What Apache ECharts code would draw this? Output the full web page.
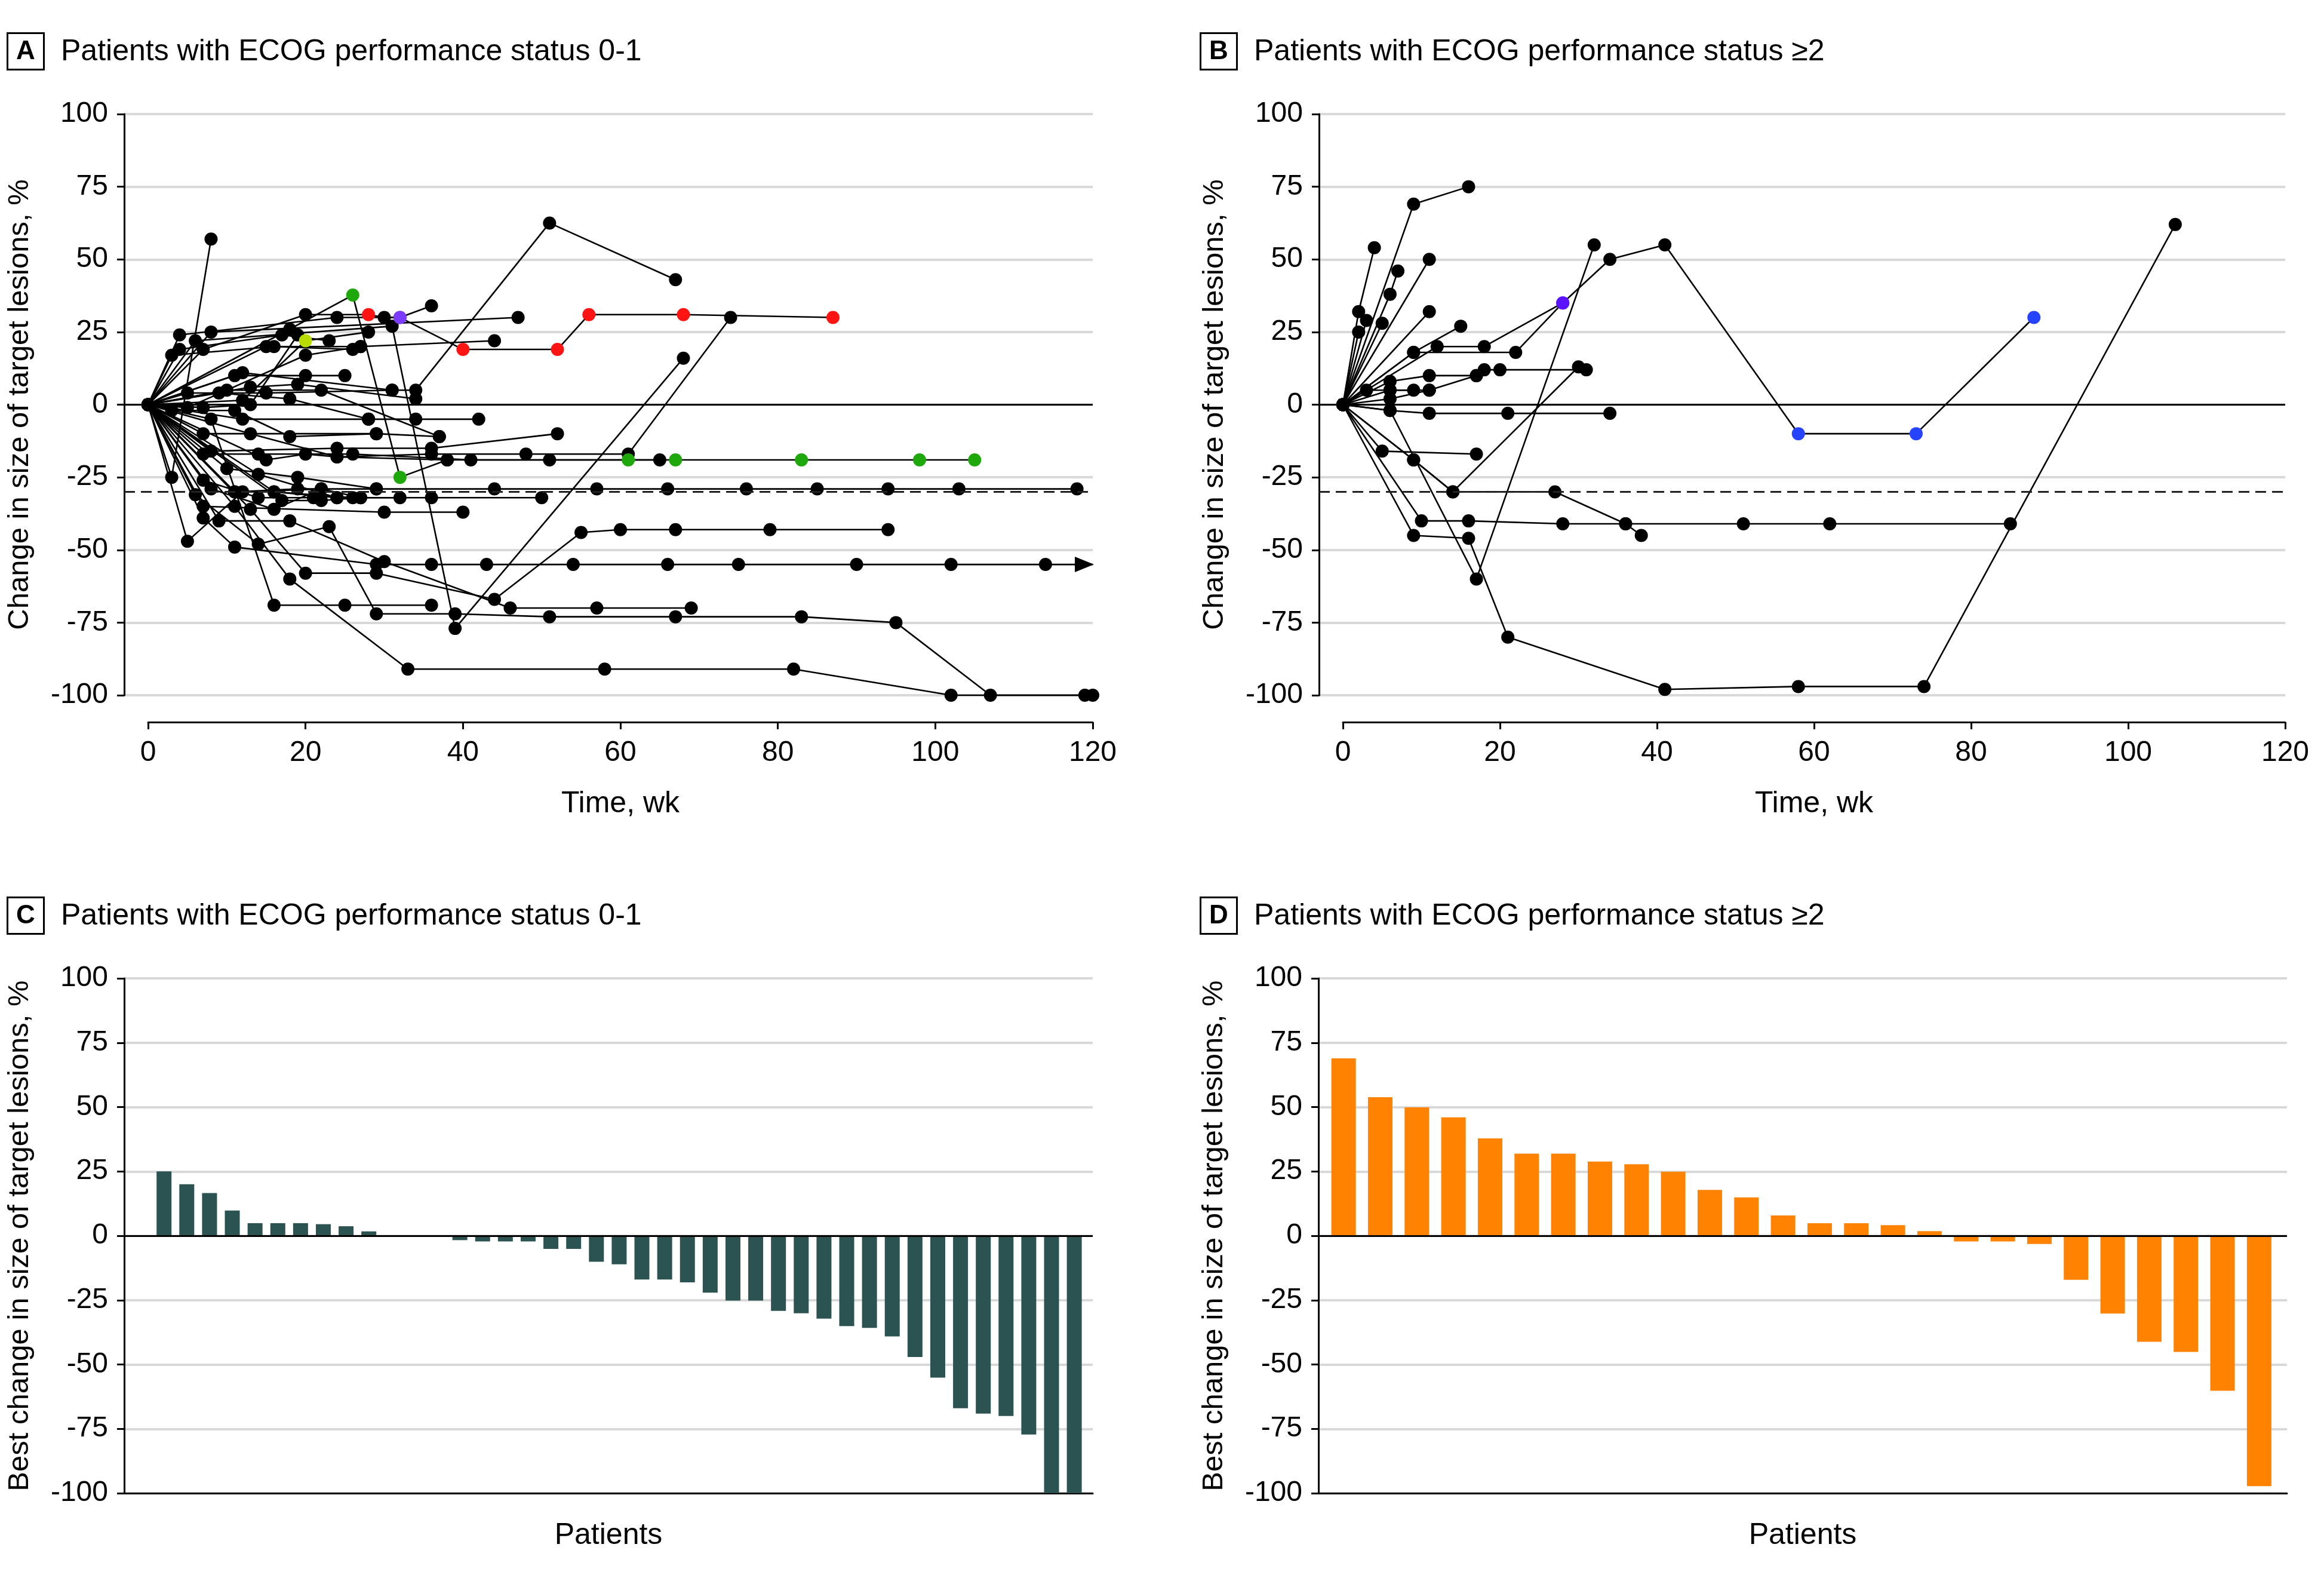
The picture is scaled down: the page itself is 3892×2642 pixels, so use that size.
<!DOCTYPE html>
<html>
<head>
<meta charset="utf-8">
<script src="https://cdn.jsdelivr.net/npm/echarts@6/dist/echarts.min.js"></script>
<style>html,body{margin:0;padding:0;background:#fff}#c{width:3892px;height:2642px}</style>
</head>
<body>
<div id="c"></div>
<script>
// ---------------- DATA ----------------
const titleA = 'Patients with ECOG performance status 0-1';
const titleB = 'Patients with ECOG performance status \u22652';
const titleC = 'Patients with ECOG performance status 0-1';
const titleD = 'Patients with ECOG performance status \u22652';
const yTicks = [-100, -75, -50, -25, 0, 25, 50, 75, 100];
const timeTicks = [0, 20, 40, 60, 80, 100, 120];
const responseThreshold = -30;

// Panel A: each patient = list of [week, % change, optional point code]
// codes: r red, g green, y yellow-green, p purple, v violet, b blue, a arrow (continuing)
const pA01 = [[0,0],[11,-30],[19,-29],[29,-29],[44,-29],[57,-29],[66,-29],[76,-29],[85,-29],[94,-29],[103,-29],[118,-29]];
const pA02 = [[0,0],[7,-39],[11,-49],[29,-55],[36,-55],[43,-55],[54,-55],[66,-55],[75,-55],[90,-55],[102,-55],[114,-55],[120,-55,'a']];
const pA03 = [[0,0],[13,-36],[20,-58],[29,-58],[44,-67],[55,-44],[60,-43],[67,-43],[79,-43],[94,-43]];
const pA04 = [[0,0],[9,-40],[18,-40],[30,-54],[46,-70],[57,-70],[69,-70]];
const pA05 = [[0,0],[6,-31],[14,-48],[23,-42],[29,-72],[39,-72],[51,-73],[67,-73],[83,-73],[95,-75],[107,-100],[119,-100]];
const pA06 = [[0,0],[11,-35],[18,-60],[33,-91],[58,-91],[82,-91],[102,-100],[120,-100]];
const pA07 = [[0,0],[8,-5],[16,-69],[25,-69],[36,-69]];
const pA08 = [[0,0],[6,22],[31,27],[39,-77],[68,16]];
const pA09 = [[0,0],[12,11],[31,5],[34,5],[51,62.5],[67,43]];
const pA10 = [[0,0],[7,19],[20,31],[28,31,'r'],[30,30],[32,30,'p'],[40,19,'r'],[52,19,'r'],[56,31,'r'],[68,31,'r'],[87,30,'r']];
const pA11 = [[0,0],[15,20],[27,20],[44,22]];
const pA12 = [[0,0],[18,26],[26,37.7,'g'],[32,-25,'g'],[38,-19],[61,-19,'g'],[67,-19,'g'],[83,-19,'g'],[98,-19,'g'],[105,-19,'g']];
const pA13 = [[0,0],[13,-10],[24,-18],[36,-17],[48,-17],[61,-17],[74,30]];
const pA14 = [[0,0],[8,25],[47,30]];
const pA15 = [[0,0],[4,24],[24,30],[32,30,'p'],[36,34]];
const pA16 = [[0,0],[3,-25],[8,57]];
const pA17 = [[0,0],[5,-47],[12,-30],[22,-29],[27,-32],[36,-32],[50,-32]];
const pA18 = [[0,0],[7,-35],[30,-37],[40,-37]];
const pA19 = [[0,0],[12,-5],[28,-5],[34,-5],[42,-5]];
const pA20 = [[0,0],[7,-10],[29,-10],[37,-11]];
const pA21 = [[0,0],[8,-16],[24,-15],[36,-15],[52,-10]];
const pA22 = [[0,0],[7,-17],[14,-17],[26,-17],[41,-19],[51,-19],[65,-19]];
const pA23 = [[0,0],[10,-22],[19,-25],[29,-29]];
const pA24 = [[0,0],[14,-24],[24,-32],[32,-32]];
const pA25 = [[0,0],[16,-30],[26,-32]];
const pA26 = [[0,0],[17,-33],[22,-33],[27,-32]];
const pA27 = [[0,0],[11,-30],[16,-30],[24,-32]];
const pA28 = [[0,0],[11,10],[20,10],[25,10]];
const pA29 = [[0,0],[13,6],[19,7],[34,2]];
const pA30 = [[0,0],[5,4],[15,4],[31,5]];
const pA31 = [[0,0],[9,4],[18,2],[28,-5]];
const pA32 = [[0,0],[3,17],[16,20],[26,19]];
const pA33 = [[0,0],[4,19],[17,24],[23,22]];
const pA34 = [[0,0],[12,1.5],[20,22,'y'],[28,25]];
const pA35 = [[0,0],[5,-1],[20,17],[27,20]];
const pA36 = [[0,0],[7,-1],[13,0],[19,24]];
const pA37 = [[0,0],[8,-29],[16,-36],[22,-29]];
const pA38 = [[0,0],[7,-26],[14,-32],[21,-32]];
const pA39 = [[0,0],[3,-2],[11,-2],[18,-11],[29,-10]];
const pA40 = [[0,0],[10,5],[22,5],[37,-11]];
const pA41 = [[0,0],[15,-19],[20,-17],[24,-18],[38,-19]];
const patientsA = [pA01,pA02,pA03,pA04,pA05,pA06,pA07,pA08,pA09,pA11,pA13,pA14,pA16,pA17,pA18,pA19,pA20,
  pA21,pA22,pA23,pA24,pA25,pA26,pA27,pA28,pA29,pA30,pA31,pA32,pA33,pA35,pA36,pA37,pA38,pA39,pA40,pA41,
  pA34,pA15,pA10,pA12];

// Panel B
const pB01 = [[0,0],[9,69],[16,75]];
const pB02 = [[0,0],[2,32],[4,54]];
const pB03 = [[0,0],[6,38],[7,46]];
const pB04 = [[0,0],[11,50]];
const pB05 = [[0,0],[3,29]];
const pB06 = [[0,0],[5,28]];
const pB07 = [[0,0],[2,25]];
const pB08 = [[0,0],[11,32]];
const pB09 = [[0,0],[9,18],[15,27]];
const pB10 = [[0,0],[12,20],[18,20],[28,35,'v'],[34,50],[41,55],[58,-10,'b'],[73,-10,'b'],[88,30,'b']];
const pB11 = [[0,0],[9,18],[22,18],[28,35,'v']];
const pB12 = [[0,0],[6,8],[11,10],[17,10]];
const pB13 = [[0,0],[6,5],[11,5],[17,10],[18,12],[20,12],[31,12]];
const pB14 = [[0,0],[3,5],[6,5],[9,5]];
const pB15 = [[0,0],[6,-2],[11,-3],[21,-3],[34,-3]];
const pB16 = [[0,0],[6,-2],[17,-60],[32,55]];
const pB17 = [[0,0],[5,-16],[17,-17]];
const pB18 = [[0,0],[9,-19],[14,-30],[30,13]];
const pB19 = [[0,0],[9,-19],[14,-30],[27,-30],[36,-41],[38,-45]];
const pB20 = [[0,0],[10,-40],[16,-40],[28,-41],[36,-41],[51,-41],[62,-41],[85,-41]];
const pB21 = [[0,0],[9,-45],[16,-46],[21,-80],[41,-98],[58,-97],[74,-97],[106,62]];
const pB22 = [[0,0],[6,2],[11,5]];
const patientsB = [pB01,pB02,pB03,pB04,pB05,pB06,pB07,pB08,pB09,pB12,pB13,pB14,pB15,pB16,pB17,pB18,pB19,pB20,pB21,pB22,pB11,pB10];

// Panel C / D: best change per patient (waterfall)
const bestC = [25,20,16.6,9.8,4.9,4.9,4.9,4.5,3.7,1.7,0,0,0,-1.7,-2.2,-2.2,-2.2,-5.1,-5.1,-10.1,-11.1,-17,-17,-18.1,-22.1,-25.2,-25.2,-29.2,-30.1,-32.2,-35.1,-35.8,-39.1,-47.1,-55.1,-67,-69.1,-70,-77.2,-100,-100];
const bestD = [68.9,53.8,49.9,46,37.8,31.9,31.9,28.8,27.8,24.9,17.8,14.9,7.9,4.9,4.9,4.1,1.8,-2.2,-2.2,-3.2,-17.1,-30.2,-41.2,-45.1,-60.2,-97.3];

// ---------------- STYLE ----------------
const FONT = "'Liberation Sans', Arial, sans-serif";
const COLORS = { r:'#ff1414', g:'#1fa80c', y:'#b9dc00', p:'#7b3cff', v:'#5a12ff', b:'#2643ff' };
const GRID_COLOR = '#d9d9d9';

function patientSeries(pts, xi, yi, z) {
  return {
    type: 'line', xAxisIndex: xi, yAxisIndex: yi, clip: false, silent: true, z: z,
    symbol: 'circle', symbolSize: 22, showAllSymbol: true,
    lineStyle: { color: '#000', width: 2.6 },
    itemStyle: { color: '#000' },
    data: pts.map(p => {
      const item = { value: [p[0], p[1]] };
      if (p[2] === 'a') {
        item.symbol = 'triangle'; item.symbolSize = [26, 32]; item.symbolRotate = -90; item.symbolOffset = [-14, 0];
      } else if (p[2]) {
        item.itemStyle = { color: COLORS[p[2]] };
      }
      return item;
    })
  };
}

function frameY(gi, name) {
  return {
    gridIndex: gi, type: 'value', min: -100, max: 100, interval: 25,
    axisLine: { show: true, onZero: false, lineStyle: { color: '#000', width: 3 } },
    axisTick: { show: true, length: 12, lineStyle: { color: '#000', width: 3 } },
    axisLabel: { color: '#000', fontSize: 48, fontFamily: FONT, margin: 27 },
    splitLine: { show: true, lineStyle: { color: GRID_COLOR, width: 4 } },
    name: name, nameLocation: 'middle', nameGap: 150,
    nameTextStyle: { color: '#000', fontSize: 49, fontFamily: FONT }
  };
}
function hiddenY(gi) { return { gridIndex: gi, type: 'value', min: -100, max: 100, show: false, splitLine:{show:false} }; }
function hiddenX(gi) { return { gridIndex: gi, type: 'value', min: 0, max: 1, show: false, splitLine:{show:false} }; }
function timeX(gi) {
  return {
    gridIndex: gi, type: 'value', min: timeTicks[0], max: timeTicks[timeTicks.length - 1], interval: 20, offset: 45,
    axisLine: { show: true, onZero: false, lineStyle: { color: '#000', width: 3 } },
    axisTick: { show: true, length: 12, lineStyle: { color: '#000', width: 3 } },
    axisLabel: { color: '#000', fontSize: 48, fontFamily: FONT, margin: 28 },
    splitLine: { show: false },
    name: 'Time, wk', nameLocation: 'middle', nameGap: 112,
    nameTextStyle: { color: '#000', fontSize: 50, fontFamily: FONT }
  };
}
function patientX(gi, min, max) {
  return {
    gridIndex: gi, type: 'value', min: min, max: max,
    axisLine: { show: true, onZero: false, lineStyle: { color: '#000', width: 3 } },
    axisTick: { show: false }, axisLabel: { show: false }, splitLine: { show: false },
    name: 'Patients', nameLocation: 'middle', nameGap: 46,
    nameTextStyle: { color: '#000', fontSize: 50, fontFamily: FONT }
  };
}
function refLines(xi, yi, withDash) {
  const d = [{ yAxis: 0, lineStyle: { color: '#000', width: 3, type: 'solid' } }];
  if (withDash) d.push({ yAxis: responseThreshold, lineStyle: { color: '#222', width: 3, type: [18, 10] } });
  return {
    type: 'line', xAxisIndex: xi, yAxisIndex: yi, data: [[0, 0]], symbol: 'none', z: 2, silent: true,
    lineStyle: { opacity: 0 },
    markLine: { silent: true, symbol: ['none', 'none'], label: { show: false }, animation: false, data: d }
  };
}
function panelTitles(letter, text, left, top) {
  return [
    {
      left: left, top: top, padding: [9, 15, 7, 15], borderColor: '#000', borderWidth: 3,
      text: letter,
      textStyle: { fontFamily: FONT, fontSize: 44, fontWeight: 'bold', color: '#000', lineHeight: 46 }
    },
    {
      left: left + 90, top: top + 6, padding: 0,
      text: text,
      textStyle: { fontFamily: FONT, fontSize: 50, fontWeight: 'normal', color: '#000', lineHeight: 52 }
    }
  ];
}

const series = [];
series.push(refLines(0, 0, true));
series.push(refLines(2, 2, true));
patientsA.forEach(p => series.push(patientSeries(p, 1, 1, p.some(q => q[2] && q[2] !== 'a') ? 5 : 4)));
patientsB.forEach(p => series.push(patientSeries(p, 3, 3, p.some(q => q[2] && q[2] !== 'a') ? 5 : 4)));
series.push({
  type: 'bar', xAxisIndex: 4, yAxisIndex: 4, barWidth: 25, silent: true,
  itemStyle: { color: '#2a5352' },
  data: bestC.map((v, i) => [i + 1, v]),
  markLine: { silent: true, symbol: ['none', 'none'], label: { show: false }, data: [{ yAxis: 0, lineStyle: { color: '#000', width: 3, type: 'solid' } }] }
});
series.push({
  type: 'bar', xAxisIndex: 5, yAxisIndex: 5, barWidth: 41, silent: true,
  itemStyle: { color: '#ff8200' },
  data: bestD.map((v, i) => [i + 1, v]),
  markLine: { silent: true, symbol: ['none', 'none'], label: { show: false }, data: [{ yAxis: 0, lineStyle: { color: '#000', width: 3, type: 'solid' } }] }
});

const option = {
  animation: false,
  backgroundColor: '#fff',
  textStyle: { fontFamily: FONT },
  title: [].concat(
    panelTitles('A', titleA, 12, 55),
    panelTitles('B', titleB, 2010, 55),
    panelTitles('C', titleC, 12, 1502),
    panelTitles('D', titleD, 2010, 1502)
  ),
  grid: [
    { left: 208, right: 2062, top: 191, height: 973 },   // 0 A frame
    { left: 248, right: 2062, top: 191, height: 973 },   // 1 A data
    { left: 2209, right: 65, top: 191, height: 973 },    // 2 B frame
    { left: 2249, right: 65, top: 191, height: 973 },    // 3 B data
    { left: 208, right: 2062, top: 1638, height: 862 },  // 4 C
    { left: 2208, right: 62, top: 1638, height: 862 }    // 5 D
  ],
  xAxis: [
    hiddenX(0), timeX(1), hiddenX(2), timeX(3),
    patientX(4, -0.75, 41.81), patientX(5, 0.313, 26.76)
  ],
  yAxis: [
    frameY(0, 'Change in size of target lesions, %'), hiddenY(1),
    frameY(2, 'Change in size of target lesions, %'), hiddenY(3),
    frameY(4, 'Best change in size of target lesions, %'),
    frameY(5, 'Best change in size of target lesions, %')
  ],
  series: series
};
const chart = echarts.init(document.getElementById('c'), null, { renderer: 'canvas' });
chart.setOption(option);
</script>
</body>
</html>
